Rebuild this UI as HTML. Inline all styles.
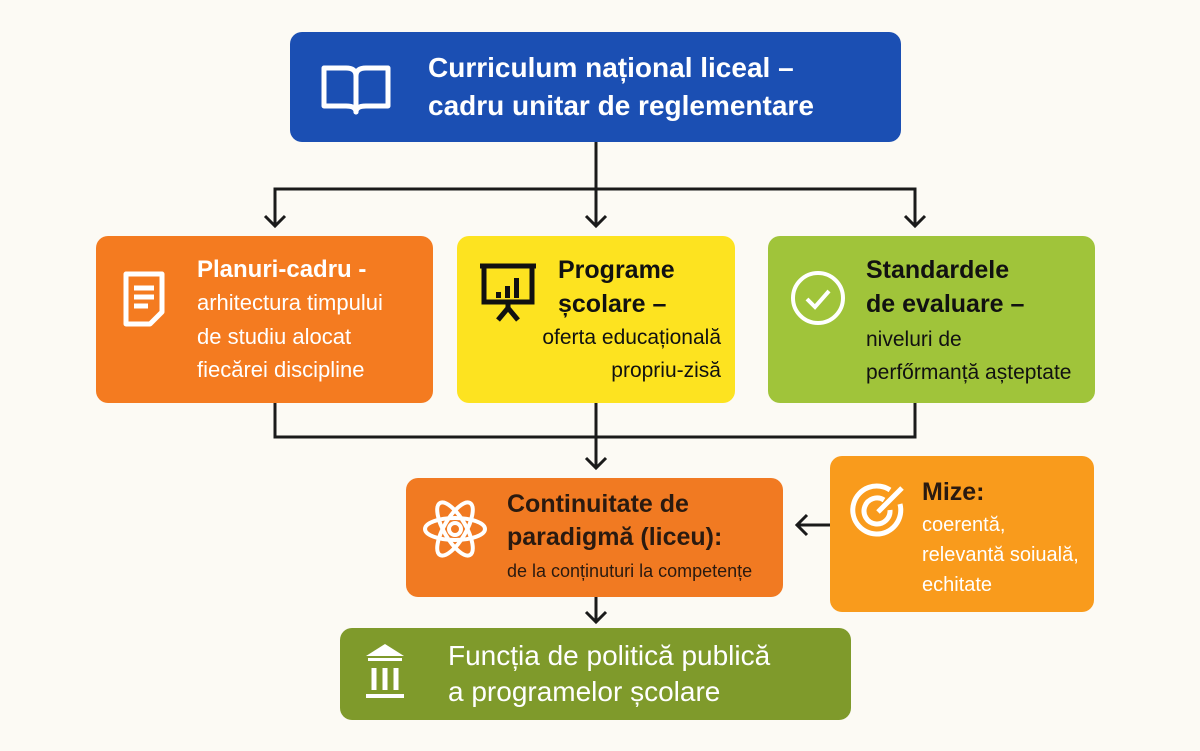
<!DOCTYPE html>
<html><head><meta charset="utf-8"><style>
body{margin:0;width:1200px;height:751px;background:#fcfaf4;font-family:"Liberation Sans",sans-serif;position:relative;overflow:hidden}
.b{position:absolute;border-radius:12px;box-sizing:border-box}
.t{position:absolute;font-weight:bold;line-height:1.35}
.s{font-weight:normal}
svg{position:absolute}
</style></head><body>
<svg width="1200" height="751" style="left:0;top:0">
<g stroke="#1a1a1a" stroke-width="3" fill="none">
<path d="M596 142V226M275 226V189H915V226"/>
<path d="M265 216l10 10 10-10M586 216l10 10 10-10M905 216l10 10 10-10"/>
<path d="M275 403V437H915V403M596 403V468"/>
<path d="M586 458l10 10 10-10"/>
<path d="M830 525H797M807 515l-10 10 10 10"/>
<path d="M596 597V622M586 612l10 10 10-10"/>
</g></svg>

<div class="b" style="left:290px;top:32px;width:611px;height:110px;background:#1b4fb3"></div>
<svg style="left:320px;top:62px" width="72" height="54"><g fill="none" stroke="#fff" stroke-width="5" stroke-linejoin="round"><path d="M4 6h22q10 0 10 8v36q0-6-10-6H4z"/><path d="M68 6H46q-10 0-10 8v36q0-6 10-6h22z"/></g></svg>
<div class="t" style="left:428px;top:49px;color:#fff;font-size:28px">Curriculum național liceal –<br>cadru unitar de reglementare</div>

<div class="b" style="left:96px;top:236px;width:337px;height:167px;background:#f47b20"></div>
<svg style="left:122px;top:270px" width="44" height="58"><path d="M4 4h36v38l-12 12H4z" fill="none" stroke="#fff" stroke-width="5" stroke-linejoin="round"/><path d="M12 18h20M12 27h20M12 36h14" stroke="#fff" stroke-width="5"/></svg>
<div class="t" style="left:197px;top:254px;color:#fff;font-size:24px">Planuri-cadru -<br><span class="s" style="font-size:22px;line-height:1.5">arhitectura timpului<br>de studiu alocat<br>fiecărei discipline</span></div>

<div class="b" style="left:457px;top:236px;width:278px;height:167px;background:#fde320"></div>
<svg style="left:478px;top:262px" width="60" height="60"><g stroke="#111" stroke-width="5" fill="none"><path d="M2 4h56M6 4v36h48V4M30 40v6M20 58l10-12 10 12"/></g><path d="M18 30h5v6h-5zM27 24h5v12h-5zM36 16h5v20h-5z" fill="#111"/></svg>
<div class="t" style="left:558px;top:254px;color:#111;font-size:25px">Programe<br>școlare –</div>
<div class="t s" style="left:457px;width:264px;top:322px;color:#111;font-size:21px;text-align:right;line-height:1.55">oferta educațională<br>propriu-zisă</div>

<div class="b" style="left:768px;top:236px;width:327px;height:167px;background:#a0c43a"></div>
<svg style="left:789px;top:269px" width="58" height="58"><circle cx="29" cy="29" r="25" fill="none" stroke="#fff" stroke-width="4"/><path d="M18 30l8 8 14-16" fill="none" stroke="#fff" stroke-width="4"/></svg>
<div class="t" style="left:866px;top:254px;color:#111;font-size:25px">Standardele<br>de evaluare –<br><span class="s" style="font-size:21px;line-height:1.5">niveluri de<br>perfőrmanță așteptate</span></div>

<div class="b" style="left:406px;top:478px;width:377px;height:119px;background:#f17a22"></div>
<svg style="left:422px;top:492px" width="66" height="74"><g fill="none" stroke="#fff" stroke-width="4"><ellipse cx="33" cy="37" rx="30" ry="11"/><ellipse cx="33" cy="37" rx="30" ry="11" transform="rotate(60 33 37)"/><ellipse cx="33" cy="37" rx="30" ry="11" transform="rotate(-60 33 37)"/><circle cx="33" cy="37" r="6"/></g></svg>
<div class="t" style="left:507px;top:488px;color:#2a1a10;font-size:25px;line-height:1.3">Continuitate de<br>paradigmă (liceu):<br><span class="s" style="font-size:18px;line-height:1.7">de la conținuturi la competențe</span></div>

<div class="b" style="left:830px;top:456px;width:264px;height:156px;background:#f99b1c"></div>
<svg style="left:850px;top:482px" width="58" height="58"><g fill="none" stroke="#fff" stroke-width="5"><path d="M40 8A24 24 0 1 0 50 22"/><path d="M34 18A13 13 0 1 0 40 28"/><path d="M28 30L52 6"/></g></svg>
<div class="t" style="left:922px;top:476px;color:#2a1a10;font-size:25px">Mize:</div>
<div class="t s" style="left:922px;top:510px;color:#fff;font-size:20px;line-height:1.5">coerentă,<br>relevantă soiuală,<br>echitate</div>

<div class="b" style="left:340px;top:628px;width:511px;height:92px;background:#7f9a2b"></div>
<svg style="left:364px;top:642px" width="42" height="62"><path d="M21 2L40 14H2z" fill="#fff"/><rect x="4" y="16" width="34" height="3" fill="#fff"/><path d="M10 26v22M21 26v22M32 26v22" stroke="#fff" stroke-width="5"/><rect x="2" y="52" width="38" height="4" fill="#fff"/></svg>
<div class="t" style="left:448px;top:638px;color:#fff;font-size:28px;font-weight:normal;line-height:1.3">Funcția de politică publică<br>a programelor școlare</div>
</body></html>
